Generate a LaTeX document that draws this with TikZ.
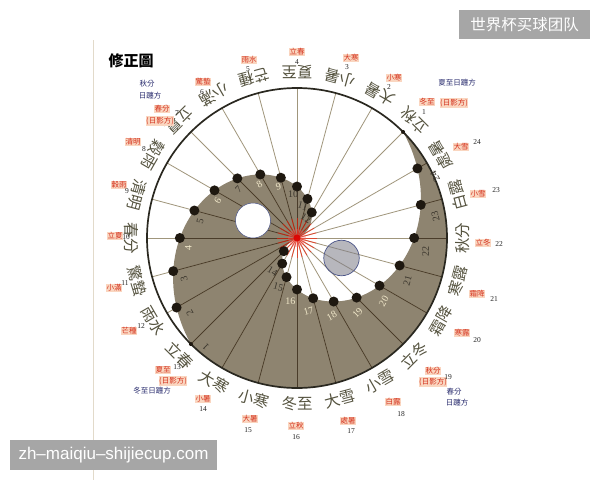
\documentclass[tikz,border=0pt]{standalone}
\usepackage{fontspec}
\setmainfont{Liberation Serif}
\newfontfamily\cjktc{Noto Sans CJK TC}
\newfontfamily\cjksc{Noto Sans CJK SC}
\newfontfamily\wmfont{Liberation Sans}
\definecolor{shadeC}{HTML}{8E8470}
\definecolor{rayC}{HTML}{A0967C}
\definecolor{rayD}{HTML}{4A3C2A}
\definecolor{rimC}{HTML}{2A2820}
\definecolor{dotC}{HTML}{1E1810}
\definecolor{inC}{HTML}{55533F}
\definecolor{labR}{HTML}{D4321E}
\definecolor{labBG}{HTML}{FAD6C0}
\definecolor{navyC}{HTML}{2C2F70}
\definecolor{wmC}{HTML}{A6A6A6}
\definecolor{dk}{HTML}{3A352C}
\definecolor{cr}{HTML}{EFE6C8}
\definecolor{grayCirc}{HTML}{7C7C88}
\definecolor{circEdge}{HTML}{4A5488}
\definecolor{pageLine}{HTML}{E2DACA}
\begin{document}
\begin{tikzpicture}[x=1pt,y=1pt,
  dotn/.style={circle, fill=dotC, inner sep=0pt, minimum size=10pt},
  smalldot/.style={circle, fill=dotC, inner sep=0pt, minimum size=4pt},
  inlab/.style={font=\cjktc\fontsize{15.5}{16}\selectfont, text=inC, inner sep=0pt},
  olab/.style={font=\cjktc\fontsize{7.5}{8}\selectfont, text=labR, fill=labBG, inner sep=0.6pt},
  onum/.style={font=\fontsize{7.5}{8}\selectfont, text=black!85, inner sep=0pt},
  navy/.style={font=\cjktc\fontsize{7.5}{8}\selectfont, text=navyC, inner sep=0pt},
  dlab/.style={font=\fontsize{10}{10}\selectfont, inner sep=0pt},
  ray/.style={draw=rayC, line width=0.8pt},
  raydark/.style={draw=rayD, line width=0.8pt},
  rim/.style={draw=rimC, line width=1.7pt},
  wmbox/.style={fill=wmC, text=white, inner sep=0pt}
]
\useasboundingbox (0,0) rectangle (600,-480);
\fill[white] (0,0) rectangle (600,-480);
\draw[pageLine, line width=1pt] (93,-40) -- (93,-480);
\node[font=\cjktc\bfseries\fontsize{15}{15}\selectfont, inner sep=0pt] (title) at (131,-61) {修正圖};

\begin{scope}[shift={(297,-238)}]
  \coordinate (O) at (0,0);
  % shaded yin region
  \fill[shadeC] (45:150) arc[start angle=45, end angle=-135, radius=150pt]
     -- plot[domain=225:19.5, samples=90] (\x:{0.73*(\x-19.5)})
     -- plot[domain=-160.5:45, samples=90] (\x:{0.73*(\x+160.5)}) -- cycle;
  % rays
  \foreach \k in {1,...,24} { \coordinate (T\k) at ({30+15*\k}:150); }
  \foreach \k in {1,...,24} { \draw[ray] (O) -- (T\k); }
  \begin{scope}
    \clip (45:150) arc[start angle=45, end angle=-135, radius=150pt]
     -- plot[domain=225:19.5, samples=90] (\x:{0.73*(\x-19.5)})
     -- plot[domain=-160.5:45, samples=90] (\x:{0.73*(\x+160.5)}) -- cycle;
    \foreach \k in {1,...,24} { \draw[raydark] (O) -- (T\k); }
  \end{scope}
  % red centre
  \begin{scope}
    \clip (O) circle (20pt);
    \foreach \k in {1,...,24} { \draw[red!80!orange, line width=0.9pt, opacity=0.6] (O) -- (T\k); }
  \end{scope}
  \fill[red!60, opacity=0.3] (O) circle (9pt);
  \fill[red!85!black, opacity=0.85] (O) circle (3.5pt);
  % the two small circles
  \node[circle, fill=white, draw=circEdge, line width=0.5pt, minimum size=35pt, inner sep=0pt] (wcirc) at (-44,17.5) {};
  \node[circle, fill=grayCirc, fill opacity=0.55, draw=circEdge, line width=0.7pt, minimum size=35.5pt, inner sep=0pt] (gcirc) at (44.5,-20) {};
  % rim
  \draw[rim] (O) circle (150pt);
  % dots on the spiral
  \node[smalldot] (L1) at (225:150) {};
  \node[smalldot] (R25) at (45:150) {};
  \foreach \j in {2,...,12} {
    \pgfmathsetmacro\a{240-15*\j}
    \pgfmathsetmacro\r{0.73*(\a-19.5)}
    \node[dotn] (L\j) at (\a:\r) {};
  }
  \foreach \j in {13,...,24} {
    \pgfmathsetmacro\b{15*\j-330}
    \pgfmathsetmacro\r{0.73*(\b+160.5)}
    \node[dotn] (R\j) at (\b:\r) {};
  }
  % dot numbers
  \foreach \j/\c in {1/dk,2/dk,3/dk,4/cr,5/dk,6/cr,7/dk,8/cr,9/cr,10/dk,11/dk,12/dk} {
    \pgfmathsetmacro\a{240-15*\j}
    \pgfmathsetmacro\r{0.73*(\a-19.5)}
    \node[dlab, text=\c, rotate=\a-90] (nL\j) at ({\a+5}:{\r-8}) {\j};
  }
  \foreach \j/\c in {14/dk,15/dk,16/cr,17/cr,18/cr,19/cr,20/cr,21/dk,22/dk,23/dk,24/dk} {
    \pgfmathsetmacro\b{15*\j-330}
    \pgfmathsetmacro\r{0.73*(\b+160.5)}
    \node[dlab, text=\c, rotate=\b+90] (nR\j) at ({\b-6}:{\r+12}) {\j};
  }
  % inner (rotated) term names
  \foreach \t/\s [count=\i] in {90/夏至,75/小暑,60/大暑,45/立秋,30/處暑,15/白露,0/秋分,-15/寒露,-30/霜降,-45/立冬,-60/小雪,-75/大雪,-90/冬至,-105/小寒,-120/大寒,-135/立春,-150/雨水,-165/驚蟄,180/春分,165/清明,150/穀雨,135/立夏,120/小滿,105/芒種} {
    \node[inlab, rotate=\t+90] (in\i) at (\t:166) {\s};
  }
\end{scope}

% outer labels
\node[olab] (o4) at (297,-52) {立春};   \node[onum] (n4) at (297,-62) {4};
\node[olab] (o3) at (351,-58) {大寒};   \node[onum] (n3) at (347,-67) {3};
\node[olab] (o2) at (394,-78) {小寒};   \node[onum] (n2) at (389,-87) {2};
\node[olab] (o1) at (427,-102) {冬至};  \node[onum] (n1) at (424,-112) {1};
\node[olab] (o1b) at (454,-103) {(日影方)};
\node[navy] (v1) at (457,-83) {夏至日躔方};
\node[olab] (o24) at (461,-147) {大雪}; \node[onum] (n24) at (477,-142) {24};
\node[olab] (o23) at (478,-194) {小雪}; \node[onum] (n23) at (496,-190) {23};
\node[olab] (o22) at (483,-243) {立冬}; \node[onum] (n22) at (499,-244) {22};
\node[olab] (o21) at (477,-294) {霜降}; \node[onum] (n21) at (494,-299) {21};
\node[olab] (o20) at (462,-333) {寒露}; \node[onum] (n20) at (477,-340) {20};
\node[olab] (o19) at (433,-371) {秋分};
\node[olab] (o19b) at (433,-382) {(日影方)}; \node[onum] (n19) at (448,-377) {19};
\node[navy] (v19a) at (454,-392) {春分};
\node[navy] (v19b) at (457,-403) {日躔方};
\node[olab] (o18) at (393,-402) {白露}; \node[onum] (n18) at (401,-414) {18};
\node[olab] (o17) at (348,-421) {處暑}; \node[onum] (n17) at (351,-431) {17};
\node[olab] (o16) at (296,-426) {立秋}; \node[onum] (n16) at (296,-437) {16};
\node[olab] (o15) at (250,-419) {大暑}; \node[onum] (n15) at (248,-430) {15};
\node[olab] (o14) at (203,-399) {小暑}; \node[onum] (n14) at (203,-409) {14};
\node[olab] (o13) at (163,-370) {夏至}; \node[onum] (n13) at (177,-367) {13};
\node[olab] (o13b) at (173,-381) {(日影方)};
\node[navy] (v13) at (152,-391) {冬至日躔方};
\node[olab] (o12) at (129,-331) {芒種}; \node[onum] (n12) at (141,-326) {12};
\node[olab] (o11) at (114,-288) {小滿}; \node[onum] (n11) at (125,-283) {11};
\node[olab] (o10) at (115,-236) {立夏}; \node[onum] (n10) at (126,-237) {10};
\node[olab] (o9) at (119,-185) {穀雨};  \node[onum] (n9) at (127,-191) {9};
\node[olab] (o8) at (133,-142) {清明};  \node[onum] (n8) at (144,-149) {8};
\node[olab] (o7) at (162,-109) {春分};  \node[onum] (n7) at (177,-113) {7};
\node[olab] (o7b) at (160,-121) {(日影方)};
\node[navy] (v7a) at (147,-84) {秋分};
\node[navy] (v7b) at (150,-96) {日躔方};
\node[olab] (o6) at (203,-82) {驚蟄};  \node[onum] (n6) at (202,-92) {6};
\node[olab] (o5) at (249,-60) {雨水};  \node[onum] (n5) at (248,-69) {5};

% watermarks
\node[wmbox, minimum width=131pt, minimum height=29pt, font=\cjksc\fontsize{15.5}{16}\selectfont] (wm1) at (524.5,-24.5) {世界杯买球团队};
\node[wmbox, minimum width=207pt, minimum height=30pt, font=\wmfont\fontsize{17}{17}\selectfont] (wm2) at (113.5,-455) {zh–maiqiu–shijiecup.com};
\end{tikzpicture}
\end{document}
